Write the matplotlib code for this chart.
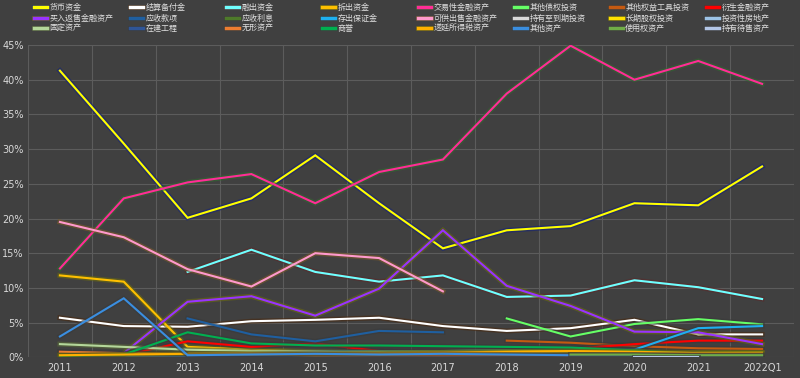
import numpy as np
import matplotlib
matplotlib.use("Agg")
import matplotlib.pyplot as plt
import matplotlib.patheffects as pe
from matplotlib.ticker import PercentFormatter, FixedLocator

plt.rcParams['font.family'] = ['Noto Sans CJK SC', 'DejaVu Sans']

nan = np.nan
years = ['2011', '2012', '2013', '2014', '2015', '2016', '2017', '2018', '2019', '2020', '2021', '2022Q1']

names = ['货币资金', '结算备付金', '融出资金', '拆出资金', '交易性金融资产', '其他债权投资', '其他权益工具投资', '衍生金融资产',
         '买入返售金融资产', '应收款项', '应收利息', '存出保证金', '可供出售金融资产', '持有至到期投资', '长期股权投资', '投资性房地产',
         '固定资产', '在建工程', '无形资产', '商誉', '递延所得税资产', '其他资产', '使用权资产', '持有待售资产']

huobi = [41.3, 30.8, 20.1, 22.9, 29.1, 22.2, 15.7, 18.3, 18.9, 22.2, 21.9, 27.5]
jiesuan = [5.7, 4.5, 4.4, 5.2, 5.4, 5.7, 4.5, 3.8, 4.2, 5.4, 3.3, 3.3]
rongchu = [nan, nan, 12.3, 15.5, 12.3, 10.9, 11.8, 8.7, 8.9, 11.1, 10.1, 8.4]
chaichu = [11.8, 10.9, 1.5, 1.1, 0.8, 0.6, 0.6, 0.7, 0.6, 0.5, 0.6, 0.6]
jiaoyi = [12.8, 22.9, 25.2, 26.4, 22.2, 26.7, 28.5, 38.0, 44.9, 40.0, 42.7, 39.4]
qitazhai = [nan, nan, nan, nan, nan, nan, nan, 5.6, 3.0, 4.8, 5.5, 4.75]
qitaquan = [nan, nan, nan, nan, nan, nan, nan, 2.4, 2.1, 1.6, 1.3, 1.2]
yansheng = [0.8, 0.3, 2.3, 1.5, 2.0, 0.9, 0.6, 0.8, 1.2, 1.9, 2.4, 2.4]
maifan = [nan, 0.6, 8.0, 8.8, 6.0, 9.9, 18.3, 10.3, 7.4, 3.7, 3.6, 1.9]
yingshou = [nan, nan, 5.6, 3.3, 2.3, 3.8, 3.6, nan, nan, nan, nan, nan]
yinglixi = [0.5, 0.4, 0.6, 0.5, 0.4, 0.4, 0.5, nan, nan, nan, nan, nan]
cunchu = [0.3, 0.4, 0.5, 0.6, 0.8, 0.9, 0.9, 1.0, 1.0, 1.1, 4.2, 4.5]
kegong = [19.5, 17.3, 12.7, 10.2, 15.0, 14.3, 9.5, nan, nan, nan, nan, nan]
chiyou = [0.1, 0.1, 0.2, 0.2, 0.1, 0.1, 0.1, nan, nan, nan, nan, nan]
changqi = [0.3, 0.3, 0.4, 0.5, 0.5, 0.6, 0.7, 0.8, 0.9, 0.8, 0.7, 0.7]
touzifang = [0.05, 0.05, 0.05, 0.05, 0.05, 0.05, 0.05, 0.05, 0.05, 0.05, 0.05, 0.05]
guding = [1.9, 1.5, 1.1, 0.9, 0.8, 0.7, 0.6, 0.6, 0.5, 0.5, 0.4, 0.4]
zaijian = [0.05, 0.1, 0.2, 0.2, 0.3, 0.3, 0.2, 0.1, 0.1, 0.1, 0.1, 0.1]
wuxing = [0.8, 0.6, 0.5, 0.4, 0.3, 0.3, 0.3, 0.3, 0.3, 0.3, 0.3, 0.3]
shangyu = [0.2, 0.4, 3.6, 2.0, 1.7, 1.7, 1.6, 1.5, 1.4, 1.0, 0.5, 0.4]
diyan = [0.3, 0.4, 0.5, 0.6, 0.5, 0.6, 0.7, 0.8, 0.9, 0.8, 0.6, 0.6]
qitazichan = [3.0, 8.5, 0.3, 0.4, 0.5, 0.4, 0.5, 0.4, 0.3, 0.3, 0.3, 0.3]
shiyongquan = [nan, nan, nan, nan, nan, nan, nan, nan, 0.4, 0.4, 0.3, 0.3]
chishou = [nan, nan, nan, nan, nan, nan, nan, nan, nan, 0.1, 0.1, nan]

series = [huobi, jiesuan, rongchu, chaichu, jiaoyi, qitazhai, qitaquan, yansheng,
          maifan, yingshou, yinglixi, cunchu, kegong, chiyou, changqi, touzifang,
          guding, zaijian, wuxing, shangyu, diyan, qitazichan, shiyongquan, chishou]

colors = ['#FFFF00', '#FFFFFF', '#70FFFF', '#FFC000', '#FF2D96', '#66FF66', '#C55A11', '#FF0000',
          '#9933FF', '#1F5FA0', '#4E7A2A', '#1EB0F0', '#FF99CC', '#D9D9D9', '#FFE100', '#9DC3E6',
          '#B4D79A', '#2F5597', '#ED7D31', '#00B050', '#FFB000', '#3A8EE0', '#70AD47', '#B4C7E7']
glows = ['#14237A', '#4A2A10', '#5A2A2A', '#6A6A10', '#2F6A2F', '#3A3A3A', '#3A3A3A', '#3A3A3A',
         '#6A6A10', '#3A3A3A', '#3A3A3A', '#3A3A3A', '#7A5A2A', '#3A3A3A', '#6A6A10', '#3A3A3A',
         '#5A6A3A', '#3A3A3A', '#3A3A3A', '#3A3A3A', '#6A6A10', '#3A3A3A', '#3A3A3A', '#3A3A3A']

bg = '#404040'
fig = plt.figure(figsize=(8, 3.78), dpi=100, facecolor=bg)
ax = fig.add_axes([28/800, 1 - 357.3/378, (794-28)/800, (357.3-45)/378])
ax.set_facecolor(bg)

x = np.arange(len(years))
lines = []
for vals, c, g, n in zip(series, colors, glows, names):
    v = np.array(vals, dtype=float) / 100
    ln, = ax.plot(x, v, color=c, lw=1.5, label=n, solid_joinstyle='miter',
                  path_effects=[pe.Stroke(linewidth=3.6, foreground=g, alpha=0.6), pe.Normal()])
    lines.append(ln)

ax.set_xlim(-0.5, len(years) - 0.5)
ax.set_ylim(0, 0.45)
ax.yaxis.set_major_locator(FixedLocator(np.arange(0, 0.451, 0.05)))
ax.yaxis.set_major_formatter(PercentFormatter(1.0, decimals=0))
ax.set_xticks(x)
ax.set_xticklabels(years)
ax.set_xticks(np.arange(-0.5, len(years), 1), minor=True)
ax.grid(True, which='major', axis='y', color='#5C5C5C', lw=0.8)
ax.grid(True, which='minor', axis='x', color='#5C5C5C', lw=0.8)
ax.set_axisbelow(True)
for s in ax.spines.values():
    s.set_visible(False)
ax.tick_params(which='both', length=0)
ax.tick_params(axis='both', colors='#D9D9D9', labelsize=7)
ax.tick_params(axis='x', pad=4)
ax.tick_params(axis='y', pad=3)
for t in ax.get_xticklabels() + ax.get_yticklabels():
    t.set_fontfamily(['DejaVu Sans'])

col_x = [34, 130, 226, 322, 418, 514, 610, 706]
for j in range(8):
    hs = [lines[j], lines[j + 8], lines[j + 16]]
    leg = fig.legend(handles=hs, loc='upper left', bbox_to_anchor=(col_x[j] / 800, 1 - 3 / 378),
                     frameon=False, fontsize=5.8, handlelength=1.6, handletextpad=0.3,
                     labelspacing=0.2, borderpad=0.0, borderaxespad=0.0)
    for t in leg.get_texts():
        t.set_color('#E0E0E0')
    for l in leg.get_lines():
        l.set_linewidth(2.5)

fig.savefig('out.png', dpi=100, facecolor=bg)
